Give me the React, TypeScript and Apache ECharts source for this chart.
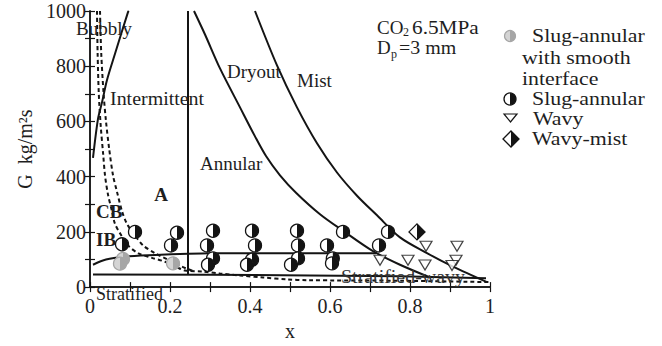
import React, { useEffect, useRef } from 'react';
import * as echarts from 'echarts';

const FONT = '"Liberation Serif", "Times New Roman", serif';
const INK = '#141414';

// Flow-pattern transition boundaries (x, G)
const bubblyIntermittent = [[0.0075, 468], [0.02, 609], [0.03, 669], [0.0425, 750], [0.0625, 845], [0.095, 996], [0.097, 1000]];
const annularDryout = [[0.26, 1000], [0.2875, 915], [0.325, 792], [0.375, 651], [0.4125, 546], [0.44, 475], [0.475, 405], [0.515, 342], [0.575, 264], [0.6325, 204], [0.7075, 130], [0.775, 81], [0.85, 35]];
const dryoutMist = [[0.4125, 1000], [0.4675, 803], [0.5175, 651], [0.5675, 521], [0.6175, 415], [0.6675, 331], [0.7175, 260], [0.775, 180], [0.8425, 123], [0.9075, 74], [0.9925, 18]];
const stratifiedWavyUpper = [[0.0075, 81], [0.04, 100], [0.0875, 110], [0.1625, 116], [0.245, 121], [0.3, 123], [0.715, 123]];
const stratifiedLower = [[0.0075, 46], [0.3, 45], [0.55, 42], [0.775, 39], [0.99, 32]];
const intermittentAnnular = [[0.245, 46], [0.245, 1000]];
const dashedInner = [[0.0175, 1000], [0.019, 850], [0.022, 700], [0.027, 580], [0.033, 480], [0.0375, 405], [0.045, 335], [0.055, 275], [0.0625, 229], [0.08, 183], [0.095, 151], [0.12, 123], [0.155, 106], [0.1875, 92], [0.22, 70], [0.2375, 60], [0.2825, 56], [0.325, 49], [0.375, 42], [0.4325, 35], [0.4925, 28], [0.5425, 25], [0.775, 23], [1.0, 18]];
const dashedOuter = [[0.025, 1000], [0.028, 850], [0.034, 700], [0.04, 600], [0.048, 500], [0.0575, 405], [0.0675, 345], [0.08, 275], [0.0925, 229], [0.1125, 187], [0.1325, 151], [0.1625, 123], [0.195, 99], [0.23, 74], [0.26, 57]];

// Observed flow patterns (x, G)
const slugAnnularSmooth = [[0.0825, 102], [0.075, 85], [0.2075, 86]];
const slugAnnular = [[0.1125, 200], [0.08, 155], [0.2175, 197], [0.2025, 151], [0.2925, 151], [0.3075, 204], [0.3075, 104], [0.295, 81], [0.405, 204], [0.4125, 151], [0.405, 99], [0.3925, 81], [0.5175, 204], [0.52, 151], [0.52, 104], [0.5025, 81], [0.6325, 200], [0.5925, 151], [0.607, 104], [0.605, 86], [0.745, 200], [0.7225, 151]];
const wavy = [[0.725, 97], [0.795, 97], [0.8375, 80], [0.84, 148], [0.9175, 148], [0.915, 97], [0.905, 78]];
const wavyMist = [[0.8175, 200]];

const legendItems = ['Slug-annular', 'with smooth', 'interface', 'Slug-annular', 'Wavy', 'Wavy-mist'];

function lineSeries(data: number[][], dashed = false, smooth: number | boolean = 0.3) {
  return {
    type: 'line',
    data,
    symbol: 'none',
    smooth,
    silent: true,
    z: 3,
    lineStyle: { color: INK, width: 2, type: dashed ? [4, 3] : 'solid' },
  };
}

function halfCircleSeries(data: number[][], fill: string, dark: string, stroke: string, r: number) {
  return {
    type: 'custom',
    data,
    z: 6,
    silent: true,
    encode: { x: 0, y: 1 },
    renderItem: (_p: any, api: any) => {
      const pt = api.coord([api.value(0), api.value(1)]);
      return {
        type: 'group',
        children: [
          { type: 'circle', shape: { cx: pt[0], cy: pt[1], r }, style: { fill, stroke: 'none' } },
          { type: 'sector', shape: { cx: pt[0], cy: pt[1], r0: 0, r, startAngle: -Math.PI / 2, endAngle: Math.PI / 2, clockwise: true }, style: { fill: dark } },
          { type: 'circle', shape: { cx: pt[0], cy: pt[1], r }, style: { fill: 'none', stroke, lineWidth: 1.3 } },
        ],
      };
    },
  };
}

function diamondSeries(data: number[][], hw: number, hh: number) {
  return {
    type: 'custom',
    data,
    z: 6,
    silent: true,
    encode: { x: 0, y: 1 },
    renderItem: (_p: any, api: any) => {
      const [x, y] = api.coord([api.value(0), api.value(1)]);
      return {
        type: 'group',
        children: [
          { type: 'polygon', shape: { points: [[x, y - hh], [x + hw, y], [x, y + hh], [x - hw, y]] }, style: { fill: '#fff', stroke: INK, lineWidth: 1.3 } },
          { type: 'polygon', shape: { points: [[x, y - hh], [x + hw, y], [x, y + hh]] }, style: { fill: INK } },
        ],
      };
    },
  };
}

function txt(text: string, x: number, y: number, size: number, opts: any = {}) {
  return {
    type: 'text',
    x,
    y,
    z: 10,
    silent: true,
    scaleX: opts.scaleX || 1,
    style: {
      text,
      fill: opts.fill || '#1e1e1e',
      font: `${opts.bold ? 'bold ' : ''}${size}px ${FONT}`,
      align: opts.align || 'left',
      verticalAlign: 'middle',
      textAlign: opts.align || 'left',
      textVerticalAlign: 'middle',
    },
  };
}

export default function App() {
  const ref = useRef<HTMLDivElement>(null);
  useEffect(() => {
    document.body.style.margin = '0';
    if (!ref.current) return;
    const chart = echarts.init(ref.current, undefined, { renderer: 'svg' });
    const axisLine = { show: true, lineStyle: { color: INK, width: 1.5 } };
    const tick = { show: true, inside: true, length: 5, lineStyle: { color: INK, width: 1.2 } };
    const minor = { show: true, splitNumber: 2, length: 5, lineStyle: { color: INK, width: 1.2 } };
    const labelStyle = { color: '#1e1e1e', fontFamily: FONT, fontSize: 20 };

    const r = 6.5;
    const LS = 1.15;
    const graphic: any[] = [
      txt('Bubbly', 76, 28, 19),
      txt('Intermittent', 110, 99, 19, { scaleX: 1.05 }),
      txt('Dryout', 227, 71, 19),
      txt('Mist', 297, 80, 19),
      txt('Annular', 200, 163, 19),
      txt('A', 161, 194, 19, { bold: true, align: 'center' }),
      txt('CB', 96, 211, 19, { bold: true }),
      txt('IB', 96, 239, 19, { bold: true }),
      txt('Stratified', 96, 294, 18),
      txt('Stratified-wavy', 341, 277, 19, { fill: '#333', scaleX: 1.05 }),
      txt('CO', 377, 27, 19),
      txt('2', 403, 32, 12),
      txt('6.5MPa', 412, 27, 19, { scaleX: 1.12 }),
      txt('D', 377, 47.5, 19),
      txt('p', 391, 54, 12),
      txt('=3 mm', 399, 47.5, 19, { scaleX: 1.05 }),
      // legend
      { type: 'circle', shape: { cx: 510, cy: 36, r: 5.5 }, style: { fill: '#d4d4d4', stroke: 'none' }, z: 10 },
      { type: 'sector', shape: { cx: 510, cy: 36, r0: 0, r: 5.5, startAngle: -Math.PI / 2, endAngle: Math.PI / 2, clockwise: true }, style: { fill: '#a6a6a6' }, z: 10 },
      { type: 'circle', shape: { cx: 510, cy: 36, r: 5.5 }, style: { fill: 'none', stroke: '#a6a6a6', lineWidth: 1.2 }, z: 10 },
      { type: 'circle', shape: { cx: 510, cy: 99, r: 6 }, style: { fill: '#fff', stroke: 'none' }, z: 10 },
      { type: 'sector', shape: { cx: 510, cy: 99, r0: 0, r: 6, startAngle: -Math.PI / 2, endAngle: Math.PI / 2, clockwise: true }, style: { fill: INK }, z: 10 },
      { type: 'circle', shape: { cx: 510, cy: 99, r: 6 }, style: { fill: 'none', stroke: INK, lineWidth: 1.3 }, z: 10 },
      { type: 'polygon', shape: { points: [[504, 114], [517, 114], [510.5, 122]] }, style: { fill: '#fff', stroke: INK, lineWidth: 1.2 }, z: 10 },
      { type: 'polygon', shape: { points: [[511, 131], [519, 139], [511, 147], [503, 139]] }, style: { fill: '#fff', stroke: INK, lineWidth: 1.3 }, z: 10 },
      { type: 'polygon', shape: { points: [[511, 131], [519, 139], [511, 147]] }, style: { fill: INK }, z: 10 },
      txt(legendItems[0], 532, 35.5, 19, { scaleX: LS }),
      txt(legendItems[1], 522, 57.5, 19, { scaleX: LS }),
      txt(legendItems[2], 522, 79, 19, { scaleX: LS }),
      txt(legendItems[3], 532, 99, 19, { scaleX: LS }),
      txt(legendItems[4], 533, 118.5, 19, { scaleX: LS }),
      txt(legendItems[5], 532, 138.5, 19, { scaleX: LS }),
    ];

    chart.setOption({
      animation: false,
      backgroundColor: '#fff',
      grid: { left: 90, right: 172, top: 11, bottom: 51, containLabel: false },
      xAxis: [
        {
          type: 'value', min: 0, max: 1, interval: 0.2,
          axisLine, axisTick: tick, minorTick: minor,
          axisLabel: { ...labelStyle, margin: 9, formatter: (v: number) => String(+v.toFixed(1)) },
          splitLine: { show: false },
          name: 'x', nameLocation: 'middle', nameGap: 30,
          nameTextStyle: { ...labelStyle },
        },
        {
          type: 'value', min: 0, max: 1, interval: 0.2, position: 'top',
          axisLine, axisTick: tick, minorTick: minor,
          axisLabel: { show: false }, splitLine: { show: false },
        },
      ],
      yAxis: [
        {
          type: 'value', min: 0, max: 1000, interval: 200,
          axisLine, axisTick: tick, minorTick: minor,
          axisLabel: { ...labelStyle, margin: 4, formatter: (v: number) => String(v) },
          splitLine: { show: false },
          name: 'G  kg/m²s', nameLocation: 'middle', nameRotate: 90, nameGap: 52,
          nameTextStyle: { ...labelStyle },
        },
        {
          type: 'value', min: 0, max: 1000, interval: 200, position: 'right',
          axisLine, axisTick: tick, minorTick: minor,
          axisLabel: { show: false }, splitLine: { show: false },
        },
      ],
      series: [
        lineSeries(bubblyIntermittent),
        lineSeries(annularDryout),
        lineSeries(dryoutMist),
        lineSeries(stratifiedWavyUpper),
        lineSeries(stratifiedLower, false, false),
        lineSeries(intermittentAnnular, false, false),
        lineSeries(dashedInner, true),
        lineSeries(dashedOuter, true),
        halfCircleSeries(slugAnnularSmooth, '#d4d4d4', '#a6a6a6', '#a6a6a6', r),
        halfCircleSeries(slugAnnular, '#ffffff', INK, INK, r),
        {
          type: 'scatter', data: wavy, symbol: 'triangle', symbolRotate: 180, symbolSize: [12, 10], z: 6,
          itemStyle: { color: '#fff', borderColor: INK, borderWidth: 1.2 },
        },
        diamondSeries(wavyMist, 8, 8),
      ],
      graphic,
    });
    return () => chart.dispose();
  }, []);
  return <div ref={ref} style={{ width: 662, height: 346 }} />;
}
